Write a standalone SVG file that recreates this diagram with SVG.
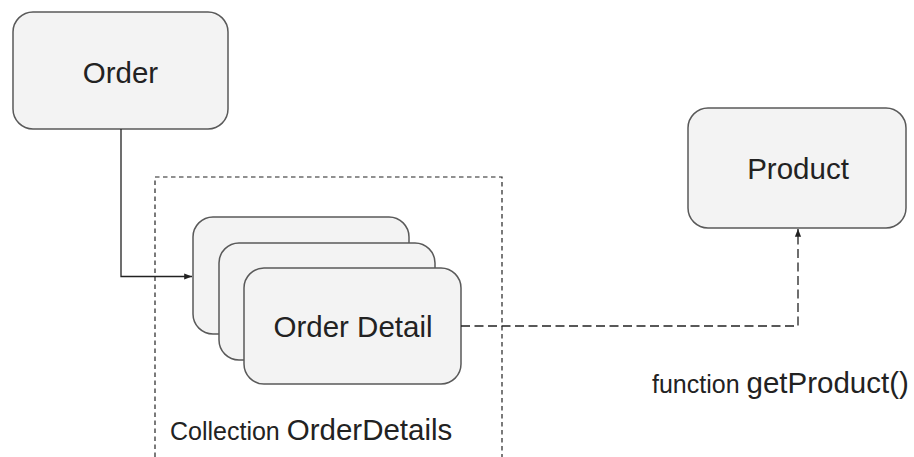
<svg xmlns="http://www.w3.org/2000/svg" width="914" height="457" viewBox="0 0 914 457">
  <defs>
    <style>
      .box { fill: #f3f3f3; stroke: #595959; stroke-width: 1.5; }
      .lbl { font-family: "Liberation Sans", Arial, sans-serif; fill: #222; }
      .big { font-size: 29.5px; }
      .small { font-size: 25px; }
      .wire { fill: none; stroke: #222; stroke-width: 1.3; }
      .dash { stroke-dasharray: 9 4.5; }
      .frame { fill: none; stroke: #222; stroke-width: 1.2; stroke-dasharray: 4.5 3.5; }
    </style>
    <marker id="arrow" viewBox="0 0 10 10" refX="10" refY="5" markerWidth="6" markerHeight="6" orient="auto">
      <path d="M0,1 L10,5 L0,9 z" fill="#222"/>
    </marker>
  </defs>
  <rect width="914" height="457" fill="#ffffff"/>

  <!-- collection frame (open at the bottom) -->
  <g id="collection">
    <path class="frame" d="M155,457 V177 H502 V457"/>
    <text class="lbl" x="170" y="439.5"><tspan class="small">Collection </tspan><tspan class="big">OrderDetails</tspan></text>
  </g>

  <g id="order">
    <rect class="box" x="13" y="12" width="215" height="117" rx="20"/>
    <text class="lbl big" x="120.5" y="83" text-anchor="middle">Order</text>
  </g>

  <g id="order-detail">
    <rect class="box" x="193" y="217" width="216" height="117" rx="20"/>
    <rect class="box" x="219" y="243" width="216" height="117" rx="20"/>
    <rect class="box" x="244" y="268" width="217" height="116" rx="20"/>
    <text class="lbl big" x="353" y="337" text-anchor="middle">Order Detail</text>
  </g>

  <g id="product">
    <rect class="box" x="688" y="108" width="218" height="120" rx="20"/>
    <text class="lbl big" x="798" y="179" text-anchor="middle">Product</text>
  </g>

  <g id="connectors">
    <path class="wire" d="M121,129 V276.5 H192" marker-end="url(#arrow)"/>
    <path class="wire dash" d="M461,326 H798 V229" marker-end="url(#arrow)"/>
  </g>

  <text class="lbl" x="652" y="393"><tspan class="small">function </tspan><tspan class="big">getProduct()</tspan></text>
</svg>
